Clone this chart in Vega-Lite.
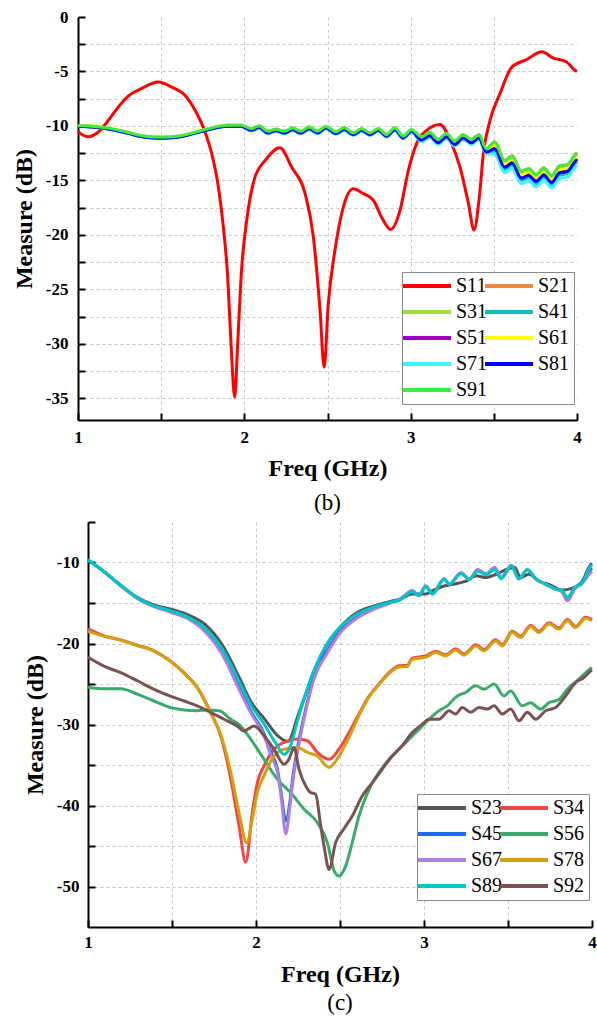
{
"$schema": "https://vega.github.io/schema/vega-lite/v6.json",
"background": "white",
"padding": {"left": 12, "top": 8, "right": 0, "bottom": 0},
"spacing": -2,
"align": "none",
"resolve": {"scale": {"x": "independent", "y": "independent", "color": "independent"}},
"config": {
  "font": "Liberation Serif",
  "view": {"stroke": null},
  "axis": {
    "domainColor": "black", "domainWidth": 2, "tickColor": "black", "tickWidth": 2, "tickSize": -7,
    "labelFont": "Liberation Serif", "labelFontWeight": "bold", "labelFontSize": 17, "labelColor": "black",
    "titleFont": "Liberation Serif", "titleFontWeight": "bold", "titleFontSize": 24, "titleColor": "black",
    "gridColor": "#c8c8c8", "gridDash": [3, 3], "gridWidth": 1, "labelFlush": false, "labelOverlap": false
  },
  "title": {"font": "Liberation Serif", "fontSize": 23, "fontWeight": "normal", "color": "black"},
  "legend": {
    "title": null, "orient": "none", "direction": "horizontal", "columns": 2, "symbolType": "M-3,0L3,0", "symbolSize": 256,
    "symbolStrokeWidth": 4, "symbolOffset": 11, "labelOffset": 19, "labelFont": "Liberation Serif",
    "labelFontSize": 20, "labelFontWeight": "normal", "labelColor": "black", "rowPadding": 6,
    "columnPadding": -15, "padding": 4, "strokeColor": "#8a8a8a", "fillColor": "white"
  }
},
"vconcat": [
{
  "width": 499, "height": 403,
  "title": {"text": "(b)", "orient": "bottom", "anchor": "middle", "offset": 12},
  "data": {"values": [
{"s":"S11","f":1,"v":-10.56},{"s":"S11","f":1.062,"v":-11},{"s":"S11","f":1.122,"v":-10.56},{"s":"S11","f":1.182,"v":-9.5},{"s":"S11","f":1.242,"v":-8.27},{"s":"S11","f":1.3,"v":-7.28},{"s":"S11","f":1.38,"v":-6.58},{"s":"S11","f":1.483,"v":-5.97},{"s":"S11","f":1.563,"v":-6.43},{"s":"S11","f":1.643,"v":-7.19},{"s":"S11","f":1.704,"v":-8.57},{"s":"S11","f":1.764,"v":-10.56},{"s":"S11","f":1.804,"v":-12.55},{"s":"S11","f":1.844,"v":-15.6},{"s":"S11","f":1.874,"v":-19.3},{"s":"S11","f":1.9,"v":-23.9},{"s":"S11","f":1.92,"v":-30},{"s":"S11","f":1.942,"v":-34.9},{"s":"S11","f":1.96,"v":-30},{"s":"S11","f":1.983,"v":-23.3},{"s":"S11","f":2.014,"v":-18.7},{"s":"S11","f":2.064,"v":-14.7},{"s":"S11","f":2.124,"v":-13.2},{"s":"S11","f":2.214,"v":-12},{"s":"S11","f":2.285,"v":-13.8},{"s":"S11","f":2.365,"v":-16.2},{"s":"S11","f":2.415,"v":-20.2},{"s":"S11","f":2.455,"v":-26.9},{"s":"S11","f":2.48,"v":-32.15},{"s":"S11","f":2.505,"v":-26.3},{"s":"S11","f":2.545,"v":-21.4},{"s":"S11","f":2.595,"v":-17.45},{"s":"S11","f":2.655,"v":-15.77},{"s":"S11","f":2.715,"v":-16.2},{"s":"S11","f":2.775,"v":-16.8},{"s":"S11","f":2.826,"v":-18.4},{"s":"S11","f":2.88,"v":-19.5},{"s":"S11","f":2.936,"v":-17.75},{"s":"S11","f":2.986,"v":-14.1},{"s":"S11","f":3.036,"v":-11.6},{"s":"S11","f":3.097,"v":-10.4},{"s":"S11","f":3.177,"v":-9.86},{"s":"S11","f":3.237,"v":-11.3},{"s":"S11","f":3.297,"v":-13.8},{"s":"S11","f":3.347,"v":-17.1},{"s":"S11","f":3.381,"v":-19.55},{"s":"S11","f":3.413,"v":-16.5},{"s":"S11","f":3.437,"v":-12.55},{"s":"S11","f":3.477,"v":-9.5},{"s":"S11","f":3.538,"v":-7},{"s":"S11","f":3.608,"v":-4.6},{"s":"S11","f":3.698,"v":-3.9},{"s":"S11","f":3.788,"v":-3.2},{"s":"S11","f":3.858,"v":-3.77},{"s":"S11","f":3.938,"v":-4.13},{"s":"S11","f":3.988,"v":-4.9},{"s":"S11","f":4,"v":-5},

{"s":"S21","f":1,"v":-9.95},{"s":"S21","f":1.1,"v":-10.05},{"s":"S21","f":1.2,"v":-10.25},{"s":"S21","f":1.3,"v":-10.6},{"s":"S21","f":1.4,"v":-10.95},{"s":"S21","f":1.5,"v":-11.05},{"s":"S21","f":1.6,"v":-10.95},{"s":"S21","f":1.7,"v":-10.6},{"s":"S21","f":1.8,"v":-10.2},{"s":"S21","f":1.9,"v":-9.95},{"s":"S21","f":1.98,"v":-9.95},{"s":"S21","f":2.04,"v":-10.25},{"s":"S21","f":2.09,"v":-10},{"s":"S21","f":2.14,"v":-10.5},{"s":"S21","f":2.19,"v":-10.3},{"s":"S21","f":2.24,"v":-10.5},{"s":"S21","f":2.29,"v":-10.2},{"s":"S21","f":2.34,"v":-10.5},{"s":"S21","f":2.39,"v":-10.1},{"s":"S21","f":2.44,"v":-10.5},{"s":"S21","f":2.49,"v":-10.05},{"s":"S21","f":2.55,"v":-10.55},{"s":"S21","f":2.6,"v":-10.17},{"s":"S21","f":2.655,"v":-10.65},{"s":"S21","f":2.705,"v":-10.25},{"s":"S21","f":2.755,"v":-10.65},{"s":"S21","f":2.805,"v":-10.25},{"s":"S21","f":2.855,"v":-10.8},{"s":"S21","f":2.905,"v":-10.2},{"s":"S21","f":2.955,"v":-10.95},{"s":"S21","f":3.005,"v":-10.35},{"s":"S21","f":3.065,"v":-11},{"s":"S21","f":3.115,"v":-10.6},{"s":"S21","f":3.165,"v":-11.25},{"s":"S21","f":3.215,"v":-10.7},{"s":"S21","f":3.265,"v":-11.4},{"s":"S21","f":3.315,"v":-10.8},{"s":"S21","f":3.365,"v":-11.25},{"s":"S21","f":3.41,"v":-10.8},{"s":"S21","f":3.455,"v":-12.1},{"s":"S21","f":3.505,"v":-11.45},{"s":"S21","f":3.565,"v":-13.15},{"s":"S21","f":3.61,"v":-12.75},{"s":"S21","f":3.665,"v":-14.15},{"s":"S21","f":3.71,"v":-13.9},{"s":"S21","f":3.755,"v":-14.45},{"s":"S21","f":3.8,"v":-13.85},{"s":"S21","f":3.848,"v":-14.55},{"s":"S21","f":3.895,"v":-13.65},{"s":"S21","f":3.94,"v":-13.55},{"s":"S21","f":3.99,"v":-12.6},{"s":"S21","f":4,"v":-12.45},

{"s":"S31","f":1,"v":-9.95},{"s":"S31","f":1.1,"v":-10.05},{"s":"S31","f":1.2,"v":-10.25},{"s":"S31","f":1.3,"v":-10.6},{"s":"S31","f":1.4,"v":-10.95},{"s":"S31","f":1.5,"v":-11.05},{"s":"S31","f":1.6,"v":-10.95},{"s":"S31","f":1.7,"v":-10.6},{"s":"S31","f":1.8,"v":-10.2},{"s":"S31","f":1.9,"v":-9.95},{"s":"S31","f":1.98,"v":-9.95},{"s":"S31","f":2.04,"v":-10.25},{"s":"S31","f":2.09,"v":-10},{"s":"S31","f":2.14,"v":-10.5},{"s":"S31","f":2.19,"v":-10.3},{"s":"S31","f":2.24,"v":-10.5},{"s":"S31","f":2.29,"v":-10.2},{"s":"S31","f":2.34,"v":-10.5},{"s":"S31","f":2.39,"v":-10.1},{"s":"S31","f":2.44,"v":-10.5},{"s":"S31","f":2.49,"v":-10.05},{"s":"S31","f":2.55,"v":-10.55},{"s":"S31","f":2.6,"v":-10.17},{"s":"S31","f":2.655,"v":-10.65},{"s":"S31","f":2.705,"v":-10.25},{"s":"S31","f":2.755,"v":-10.65},{"s":"S31","f":2.805,"v":-10.25},{"s":"S31","f":2.855,"v":-10.8},{"s":"S31","f":2.905,"v":-10.2},{"s":"S31","f":2.955,"v":-10.95},{"s":"S31","f":3.005,"v":-10.35},{"s":"S31","f":3.065,"v":-11.05},{"s":"S31","f":3.115,"v":-10.65},{"s":"S31","f":3.165,"v":-11.3},{"s":"S31","f":3.215,"v":-10.75},{"s":"S31","f":3.265,"v":-11.45},{"s":"S31","f":3.315,"v":-10.85},{"s":"S31","f":3.365,"v":-11.3},{"s":"S31","f":3.41,"v":-10.85},{"s":"S31","f":3.455,"v":-12.15},{"s":"S31","f":3.505,"v":-11.6},{"s":"S31","f":3.565,"v":-13.3},{"s":"S31","f":3.61,"v":-12.9},{"s":"S31","f":3.665,"v":-14.3},{"s":"S31","f":3.71,"v":-14.05},{"s":"S31","f":3.755,"v":-14.6},{"s":"S31","f":3.8,"v":-14},{"s":"S31","f":3.848,"v":-14.7},{"s":"S31","f":3.895,"v":-13.8},{"s":"S31","f":3.94,"v":-13.7},{"s":"S31","f":3.99,"v":-12.75},{"s":"S31","f":4,"v":-12.6},

{"s":"S41","f":1,"v":-10},{"s":"S41","f":1.1,"v":-10.1},{"s":"S41","f":1.2,"v":-10.3},{"s":"S41","f":1.3,"v":-10.65},{"s":"S41","f":1.4,"v":-11},{"s":"S41","f":1.5,"v":-11.1},{"s":"S41","f":1.6,"v":-11},{"s":"S41","f":1.7,"v":-10.65},{"s":"S41","f":1.8,"v":-10.25},{"s":"S41","f":1.9,"v":-10},{"s":"S41","f":1.98,"v":-10},{"s":"S41","f":2.04,"v":-10.37},{"s":"S41","f":2.09,"v":-10.12},{"s":"S41","f":2.14,"v":-10.62},{"s":"S41","f":2.19,"v":-10.42},{"s":"S41","f":2.24,"v":-10.62},{"s":"S41","f":2.29,"v":-10.32},{"s":"S41","f":2.34,"v":-10.62},{"s":"S41","f":2.39,"v":-10.22},{"s":"S41","f":2.44,"v":-10.62},{"s":"S41","f":2.49,"v":-10.17},{"s":"S41","f":2.55,"v":-10.67},{"s":"S41","f":2.6,"v":-10.29},{"s":"S41","f":2.655,"v":-10.77},{"s":"S41","f":2.705,"v":-10.37},{"s":"S41","f":2.755,"v":-10.77},{"s":"S41","f":2.805,"v":-10.37},{"s":"S41","f":2.855,"v":-10.92},{"s":"S41","f":2.905,"v":-10.32},{"s":"S41","f":2.955,"v":-11.07},{"s":"S41","f":3.005,"v":-10.47},{"s":"S41","f":3.065,"v":-11.3},{"s":"S41","f":3.115,"v":-10.9},{"s":"S41","f":3.165,"v":-11.55},{"s":"S41","f":3.215,"v":-11},{"s":"S41","f":3.265,"v":-11.7},{"s":"S41","f":3.315,"v":-11.1},{"s":"S41","f":3.365,"v":-11.55},{"s":"S41","f":3.41,"v":-11.1},{"s":"S41","f":3.455,"v":-12.4},{"s":"S41","f":3.505,"v":-12.3},{"s":"S41","f":3.565,"v":-14},{"s":"S41","f":3.61,"v":-13.6},{"s":"S41","f":3.665,"v":-15},{"s":"S41","f":3.71,"v":-14.75},{"s":"S41","f":3.755,"v":-15.3},{"s":"S41","f":3.8,"v":-14.7},{"s":"S41","f":3.848,"v":-15.4},{"s":"S41","f":3.895,"v":-14.5},{"s":"S41","f":3.94,"v":-14.4},{"s":"S41","f":3.99,"v":-13.45},{"s":"S41","f":4,"v":-13.3},

{"s":"S51","f":1,"v":-10},{"s":"S51","f":1.1,"v":-10.1},{"s":"S51","f":1.2,"v":-10.3},{"s":"S51","f":1.3,"v":-10.65},{"s":"S51","f":1.4,"v":-11},{"s":"S51","f":1.5,"v":-11.1},{"s":"S51","f":1.6,"v":-11},{"s":"S51","f":1.7,"v":-10.65},{"s":"S51","f":1.8,"v":-10.25},{"s":"S51","f":1.9,"v":-10},{"s":"S51","f":1.98,"v":-10},{"s":"S51","f":2.04,"v":-10.35},{"s":"S51","f":2.09,"v":-10.1},{"s":"S51","f":2.14,"v":-10.6},{"s":"S51","f":2.19,"v":-10.4},{"s":"S51","f":2.24,"v":-10.6},{"s":"S51","f":2.29,"v":-10.3},{"s":"S51","f":2.34,"v":-10.6},{"s":"S51","f":2.39,"v":-10.2},{"s":"S51","f":2.44,"v":-10.6},{"s":"S51","f":2.49,"v":-10.15},{"s":"S51","f":2.55,"v":-10.65},{"s":"S51","f":2.6,"v":-10.27},{"s":"S51","f":2.655,"v":-10.75},{"s":"S51","f":2.705,"v":-10.35},{"s":"S51","f":2.755,"v":-10.75},{"s":"S51","f":2.805,"v":-10.35},{"s":"S51","f":2.855,"v":-10.9},{"s":"S51","f":2.905,"v":-10.3},{"s":"S51","f":2.955,"v":-11.05},{"s":"S51","f":3.005,"v":-10.45},{"s":"S51","f":3.065,"v":-11.2},{"s":"S51","f":3.115,"v":-10.8},{"s":"S51","f":3.165,"v":-11.45},{"s":"S51","f":3.215,"v":-10.9},{"s":"S51","f":3.265,"v":-11.6},{"s":"S51","f":3.315,"v":-11},{"s":"S51","f":3.365,"v":-11.45},{"s":"S51","f":3.41,"v":-11},{"s":"S51","f":3.455,"v":-12.3},{"s":"S51","f":3.505,"v":-11.95},{"s":"S51","f":3.565,"v":-13.65},{"s":"S51","f":3.61,"v":-13.25},{"s":"S51","f":3.665,"v":-14.65},{"s":"S51","f":3.71,"v":-14.4},{"s":"S51","f":3.755,"v":-14.95},{"s":"S51","f":3.8,"v":-14.35},{"s":"S51","f":3.848,"v":-15.05},{"s":"S51","f":3.895,"v":-14.15},{"s":"S51","f":3.94,"v":-14.05},{"s":"S51","f":3.99,"v":-13.1},{"s":"S51","f":4,"v":-12.95},

{"s":"S61","f":1,"v":-9.95},{"s":"S61","f":1.1,"v":-10.05},{"s":"S61","f":1.2,"v":-10.25},{"s":"S61","f":1.3,"v":-10.6},{"s":"S61","f":1.4,"v":-10.95},{"s":"S61","f":1.5,"v":-11.05},{"s":"S61","f":1.6,"v":-10.95},{"s":"S61","f":1.7,"v":-10.6},{"s":"S61","f":1.8,"v":-10.2},{"s":"S61","f":1.9,"v":-9.95},{"s":"S61","f":1.98,"v":-9.95},{"s":"S61","f":2.04,"v":-10.3},{"s":"S61","f":2.09,"v":-10.05},{"s":"S61","f":2.14,"v":-10.55},{"s":"S61","f":2.19,"v":-10.35},{"s":"S61","f":2.24,"v":-10.55},{"s":"S61","f":2.29,"v":-10.25},{"s":"S61","f":2.34,"v":-10.55},{"s":"S61","f":2.39,"v":-10.15},{"s":"S61","f":2.44,"v":-10.55},{"s":"S61","f":2.49,"v":-10.1},{"s":"S61","f":2.55,"v":-10.6},{"s":"S61","f":2.6,"v":-10.22},{"s":"S61","f":2.655,"v":-10.7},{"s":"S61","f":2.705,"v":-10.3},{"s":"S61","f":2.755,"v":-10.7},{"s":"S61","f":2.805,"v":-10.3},{"s":"S61","f":2.855,"v":-10.85},{"s":"S61","f":2.905,"v":-10.25},{"s":"S61","f":2.955,"v":-11},{"s":"S61","f":3.005,"v":-10.4},{"s":"S61","f":3.065,"v":-11.1},{"s":"S61","f":3.115,"v":-10.7},{"s":"S61","f":3.165,"v":-11.35},{"s":"S61","f":3.215,"v":-10.8},{"s":"S61","f":3.265,"v":-11.5},{"s":"S61","f":3.315,"v":-10.9},{"s":"S61","f":3.365,"v":-11.35},{"s":"S61","f":3.41,"v":-10.9},{"s":"S61","f":3.455,"v":-12.2},{"s":"S61","f":3.505,"v":-11.8},{"s":"S61","f":3.565,"v":-13.5},{"s":"S61","f":3.61,"v":-13.1},{"s":"S61","f":3.665,"v":-14.5},{"s":"S61","f":3.71,"v":-14.25},{"s":"S61","f":3.755,"v":-14.8},{"s":"S61","f":3.8,"v":-14.2},{"s":"S61","f":3.848,"v":-14.9},{"s":"S61","f":3.895,"v":-14},{"s":"S61","f":3.94,"v":-13.9},{"s":"S61","f":3.99,"v":-12.95},{"s":"S61","f":4,"v":-12.8},

{"s":"S71","f":1,"v":-10.03},{"s":"S71","f":1.1,"v":-10.13},{"s":"S71","f":1.2,"v":-10.33},{"s":"S71","f":1.3,"v":-10.68},{"s":"S71","f":1.4,"v":-11.03},{"s":"S71","f":1.5,"v":-11.13},{"s":"S71","f":1.6,"v":-11.03},{"s":"S71","f":1.7,"v":-10.68},{"s":"S71","f":1.8,"v":-10.28},{"s":"S71","f":1.9,"v":-10.03},{"s":"S71","f":1.98,"v":-10.03},{"s":"S71","f":2.04,"v":-10.47},{"s":"S71","f":2.09,"v":-10.22},{"s":"S71","f":2.14,"v":-10.72},{"s":"S71","f":2.19,"v":-10.52},{"s":"S71","f":2.24,"v":-10.72},{"s":"S71","f":2.29,"v":-10.42},{"s":"S71","f":2.34,"v":-10.72},{"s":"S71","f":2.39,"v":-10.32},{"s":"S71","f":2.44,"v":-10.72},{"s":"S71","f":2.49,"v":-10.27},{"s":"S71","f":2.55,"v":-10.77},{"s":"S71","f":2.6,"v":-10.39},{"s":"S71","f":2.655,"v":-10.87},{"s":"S71","f":2.705,"v":-10.47},{"s":"S71","f":2.755,"v":-10.87},{"s":"S71","f":2.805,"v":-10.47},{"s":"S71","f":2.855,"v":-11.02},{"s":"S71","f":2.905,"v":-10.42},{"s":"S71","f":2.955,"v":-11.17},{"s":"S71","f":3.005,"v":-10.57},{"s":"S71","f":3.065,"v":-11.45},{"s":"S71","f":3.115,"v":-11.05},{"s":"S71","f":3.165,"v":-11.7},{"s":"S71","f":3.215,"v":-11.15},{"s":"S71","f":3.265,"v":-11.85},{"s":"S71","f":3.315,"v":-11.25},{"s":"S71","f":3.365,"v":-11.7},{"s":"S71","f":3.41,"v":-11.25},{"s":"S71","f":3.455,"v":-12.55},{"s":"S71","f":3.505,"v":-12.6},{"s":"S71","f":3.565,"v":-14.3},{"s":"S71","f":3.61,"v":-13.9},{"s":"S71","f":3.665,"v":-15.3},{"s":"S71","f":3.71,"v":-15.05},{"s":"S71","f":3.755,"v":-15.6},{"s":"S71","f":3.8,"v":-15},{"s":"S71","f":3.848,"v":-15.7},{"s":"S71","f":3.895,"v":-14.8},{"s":"S71","f":3.94,"v":-14.7},{"s":"S71","f":3.99,"v":-13.75},{"s":"S71","f":4,"v":-13.6},

{"s":"S81","f":1,"v":-10.03},{"s":"S81","f":1.1,"v":-10.13},{"s":"S81","f":1.2,"v":-10.33},{"s":"S81","f":1.3,"v":-10.68},{"s":"S81","f":1.4,"v":-11.03},{"s":"S81","f":1.5,"v":-11.13},{"s":"S81","f":1.6,"v":-11.03},{"s":"S81","f":1.7,"v":-10.68},{"s":"S81","f":1.8,"v":-10.28},{"s":"S81","f":1.9,"v":-10.03},{"s":"S81","f":1.98,"v":-10.03},{"s":"S81","f":2.04,"v":-10.4},{"s":"S81","f":2.09,"v":-10.15},{"s":"S81","f":2.14,"v":-10.65},{"s":"S81","f":2.19,"v":-10.45},{"s":"S81","f":2.24,"v":-10.65},{"s":"S81","f":2.29,"v":-10.35},{"s":"S81","f":2.34,"v":-10.65},{"s":"S81","f":2.39,"v":-10.25},{"s":"S81","f":2.44,"v":-10.65},{"s":"S81","f":2.49,"v":-10.2},{"s":"S81","f":2.55,"v":-10.7},{"s":"S81","f":2.6,"v":-10.32},{"s":"S81","f":2.655,"v":-10.8},{"s":"S81","f":2.705,"v":-10.4},{"s":"S81","f":2.755,"v":-10.8},{"s":"S81","f":2.805,"v":-10.4},{"s":"S81","f":2.855,"v":-10.95},{"s":"S81","f":2.905,"v":-10.35},{"s":"S81","f":2.955,"v":-11.1},{"s":"S81","f":3.005,"v":-10.5},{"s":"S81","f":3.065,"v":-11.3},{"s":"S81","f":3.115,"v":-10.9},{"s":"S81","f":3.165,"v":-11.55},{"s":"S81","f":3.215,"v":-11},{"s":"S81","f":3.265,"v":-11.7},{"s":"S81","f":3.315,"v":-11.1},{"s":"S81","f":3.365,"v":-11.55},{"s":"S81","f":3.41,"v":-11.1},{"s":"S81","f":3.455,"v":-12.4},{"s":"S81","f":3.505,"v":-12.1},{"s":"S81","f":3.565,"v":-13.8},{"s":"S81","f":3.61,"v":-13.4},{"s":"S81","f":3.665,"v":-14.8},{"s":"S81","f":3.71,"v":-14.55},{"s":"S81","f":3.755,"v":-15.1},{"s":"S81","f":3.8,"v":-14.5},{"s":"S81","f":3.848,"v":-15.2},{"s":"S81","f":3.895,"v":-14.3},{"s":"S81","f":3.94,"v":-14.2},{"s":"S81","f":3.99,"v":-13.25},{"s":"S81","f":4,"v":-13.1},

{"s":"S91","f":1,"v":-9.95},{"s":"S91","f":1.1,"v":-10.05},{"s":"S91","f":1.2,"v":-10.25},{"s":"S91","f":1.3,"v":-10.6},{"s":"S91","f":1.4,"v":-10.95},{"s":"S91","f":1.5,"v":-11.05},{"s":"S91","f":1.6,"v":-10.95},{"s":"S91","f":1.7,"v":-10.6},{"s":"S91","f":1.8,"v":-10.2},{"s":"S91","f":1.9,"v":-9.95},{"s":"S91","f":1.98,"v":-9.95},{"s":"S91","f":2.04,"v":-10.25},{"s":"S91","f":2.09,"v":-10},{"s":"S91","f":2.14,"v":-10.5},{"s":"S91","f":2.19,"v":-10.3},{"s":"S91","f":2.24,"v":-10.5},{"s":"S91","f":2.29,"v":-10.2},{"s":"S91","f":2.34,"v":-10.5},{"s":"S91","f":2.39,"v":-10.1},{"s":"S91","f":2.44,"v":-10.5},{"s":"S91","f":2.49,"v":-10.05},{"s":"S91","f":2.55,"v":-10.55},{"s":"S91","f":2.6,"v":-10.17},{"s":"S91","f":2.655,"v":-10.65},{"s":"S91","f":2.705,"v":-10.25},{"s":"S91","f":2.755,"v":-10.65},{"s":"S91","f":2.805,"v":-10.25},{"s":"S91","f":2.855,"v":-10.8},{"s":"S91","f":2.905,"v":-10.2},{"s":"S91","f":2.955,"v":-10.95},{"s":"S91","f":3.005,"v":-10.35},{"s":"S91","f":3.065,"v":-11},{"s":"S91","f":3.115,"v":-10.6},{"s":"S91","f":3.165,"v":-11.25},{"s":"S91","f":3.215,"v":-10.7},{"s":"S91","f":3.265,"v":-11.4},{"s":"S91","f":3.315,"v":-10.8},{"s":"S91","f":3.365,"v":-11.25},{"s":"S91","f":3.41,"v":-10.8},{"s":"S91","f":3.455,"v":-12.1},{"s":"S91","f":3.505,"v":-11.5},{"s":"S91","f":3.565,"v":-13.2},{"s":"S91","f":3.61,"v":-12.8},{"s":"S91","f":3.665,"v":-14.2},{"s":"S91","f":3.71,"v":-13.95},{"s":"S91","f":3.755,"v":-14.5},{"s":"S91","f":3.8,"v":-13.9},{"s":"S91","f":3.848,"v":-14.6},{"s":"S91","f":3.895,"v":-13.7},{"s":"S91","f":3.94,"v":-13.6},{"s":"S91","f":3.99,"v":-12.65},{"s":"S91","f":4,"v":-12.5}
  ]},
  "mark": {"type": "line", "strokeWidth": 3, "interpolate": "monotone"},
  "encoding": {
    "x": {"field": "f", "type": "quantitative", "scale": {"domain": [1, 4], "nice": false, "zero": false},
      "axis": {"title": "Freq (GHz)", "values": [1, 1.5, 2, 2.5, 3, 3.5, 4], "labelExpr": "datum.value % 1 === 0 ? '' + datum.value : ''",
        "labelPadding": 16, "titlePadding": 11,
        "gridOpacity": {"condition": {"test": "datum.value === 1 || datum.value === 4", "value": 0}, "value": 1}}},
    "y": {"field": "v", "type": "quantitative", "scale": {"domain": [-37, 0], "nice": false, "zero": false},
      "axis": {"title": "Measure (dB)", "values": [0, -2.5, -5, -7.5, -10, -12.5, -15, -17.5, -20, -22.5, -25, -27.5, -30, -32.5, -35],
        "labelExpr": "datum.value % 5 === 0 ? '' + datum.value : ''", "labelPadding": 17, "titlePadding": 9,
        "gridOpacity": {"condition": {"test": "datum.value === 0", "value": 0}, "value": 1}}},
    "color": {"field": "s", "type": "nominal",
      "scale": {"domain": ["S11","S21","S31","S41","S51","S61","S71","S81","S91"],
        "range": ["#ff0000","#f08a3a","#9edc3a","#14bebe","#9a00c8","#ffff00","#3cf4ff","#0000ff","#3cee3c"]},
      "legend": {"legendX": 324, "legendY": 255}}
  }
},
{
  "align": "none",
  "spacing": -56,
  "hconcat": [
    {"width": 1, "height": 10, "data": {"values": []}, "mark": "point", "encoding": {}},
    {
  "width": 504, "height": 405,
  "title": {"text": "(c)", "orient": "bottom", "anchor": "middle", "offset": 5},
  "data": {"values": [
{"s":"S23","f":1,"v":-9.7},{"s":"S23","f":1.1,"v":-11.2},{"s":"S23","f":1.2,"v":-12.9},{"s":"S23","f":1.3,"v":-14.4},{"s":"S23","f":1.4,"v":-15.3},{"s":"S23","f":1.5,"v":-15.8},{"s":"S23","f":1.6,"v":-16.5},{"s":"S23","f":1.7,"v":-17.7},{"s":"S23","f":1.8,"v":-20.2},{"s":"S23","f":1.9,"v":-24.2},{"s":"S23","f":1.97,"v":-27.2},{"s":"S23","f":2.05,"v":-29.3},{"s":"S23","f":2.13,"v":-31.4},{"s":"S23","f":2.19,"v":-32.1},{"s":"S23","f":2.25,"v":-28.9},{"s":"S23","f":2.35,"v":-23.2},{"s":"S23","f":2.43,"v":-19.9},{"s":"S23","f":2.5,"v":-18},{"s":"S23","f":2.6,"v":-16.2},{"s":"S23","f":2.7,"v":-15.4},{"s":"S23","f":2.8,"v":-14.8},{"s":"S23","f":2.86,"v":-14.5},{"s":"S23","f":2.93,"v":-13.9},{"s":"S23","f":3.01,"v":-13.9},{"s":"S23","f":3.05,"v":-13.5},{"s":"S23","f":3.12,"v":-12.9},{"s":"S23","f":3.17,"v":-12.7},{"s":"S23","f":3.25,"v":-12.3},{"s":"S23","f":3.31,"v":-11.65},{"s":"S23","f":3.37,"v":-11.85},{"s":"S23","f":3.43,"v":-11.45},{"s":"S23","f":3.49,"v":-10.85},{"s":"S23","f":3.54,"v":-10.6},{"s":"S23","f":3.575,"v":-11.85},{"s":"S23","f":3.625,"v":-11.45},{"s":"S23","f":3.684,"v":-12.3},{"s":"S23","f":3.744,"v":-12.7},{"s":"S23","f":3.82,"v":-13.4},{"s":"S23","f":3.88,"v":-13.2},{"s":"S23","f":3.94,"v":-12.4},{"s":"S23","f":3.99,"v":-10.3},{"s":"S23","f":4,"v":-10.1},

{"s":"S34","f":1,"v":-18.2},{"s":"S34","f":1.095,"v":-19.05},{"s":"S34","f":1.195,"v":-19.55},{"s":"S34","f":1.293,"v":-20.2},{"s":"S34","f":1.393,"v":-20.9},{"s":"S34","f":1.49,"v":-22.15},{"s":"S34","f":1.571,"v":-23.6},{"s":"S34","f":1.65,"v":-25.4},{"s":"S34","f":1.73,"v":-28.5},{"s":"S34","f":1.79,"v":-31.4},{"s":"S34","f":1.85,"v":-36.75},{"s":"S34","f":1.899,"v":-42.5},{"s":"S34","f":1.939,"v":-47},{"s":"S34","f":1.978,"v":-40.9},{"s":"S34","f":2.008,"v":-37.2},{"s":"S34","f":2.048,"v":-35.1},{"s":"S34","f":2.107,"v":-33.05},{"s":"S34","f":2.167,"v":-32.2},{"s":"S34","f":2.246,"v":-31.8},{"s":"S34","f":2.306,"v":-32},{"s":"S34","f":2.365,"v":-33.45},{"s":"S34","f":2.435,"v":-34.3},{"s":"S34","f":2.494,"v":-33.05},{"s":"S34","f":2.554,"v":-31},{"s":"S34","f":2.613,"v":-28.7},{"s":"S34","f":2.673,"v":-26.5},{"s":"S34","f":2.732,"v":-25},{"s":"S34","f":2.792,"v":-23.6},{"s":"S34","f":2.851,"v":-22.75},{"s":"S34","f":2.9,"v":-22.7},{"s":"S34","f":2.93,"v":-21.8},{"s":"S34","f":3.01,"v":-21.55},{"s":"S34","f":3.07,"v":-20.95},{"s":"S34","f":3.129,"v":-21.4},{"s":"S34","f":3.188,"v":-20.65},{"s":"S34","f":3.238,"v":-21.3},{"s":"S34","f":3.308,"v":-20.15},{"s":"S34","f":3.357,"v":-20.75},{"s":"S34","f":3.427,"v":-19.55},{"s":"S34","f":3.466,"v":-20.15},{"s":"S34","f":3.526,"v":-18.5},{"s":"S34","f":3.575,"v":-19.1},{"s":"S34","f":3.635,"v":-17.75},{"s":"S34","f":3.684,"v":-18.5},{"s":"S34","f":3.744,"v":-17.45},{"s":"S34","f":3.803,"v":-18.1},{"s":"S34","f":3.853,"v":-17.05},{"s":"S34","f":3.903,"v":-17.9},{"s":"S34","f":3.962,"v":-16.75},{"s":"S34","f":3.992,"v":-16.95},{"s":"S34","f":4,"v":-17.05},

{"s":"S45","f":1,"v":-9.7},{"s":"S45","f":1.1,"v":-11.2},{"s":"S45","f":1.2,"v":-12.95},{"s":"S45","f":1.3,"v":-14.5},{"s":"S45","f":1.4,"v":-15.45},{"s":"S45","f":1.5,"v":-16.1},{"s":"S45","f":1.6,"v":-16.9},{"s":"S45","f":1.7,"v":-18.5},{"s":"S45","f":1.8,"v":-21.2},{"s":"S45","f":1.9,"v":-25.4},{"s":"S45","f":1.97,"v":-28.4},{"s":"S45","f":2.05,"v":-31.2},{"s":"S45","f":2.09,"v":-33.5},{"s":"S45","f":2.127,"v":-35.5},{"s":"S45","f":2.15,"v":-38.5},{"s":"S45","f":2.177,"v":-41.9},{"s":"S45","f":2.2,"v":-39.8},{"s":"S45","f":2.216,"v":-37},{"s":"S45","f":2.246,"v":-33},{"s":"S45","f":2.286,"v":-29},{"s":"S45","f":2.345,"v":-24.1},{"s":"S45","f":2.43,"v":-20.7},{"s":"S45","f":2.5,"v":-18.5},{"s":"S45","f":2.6,"v":-16.8},{"s":"S45","f":2.7,"v":-15.7},{"s":"S45","f":2.8,"v":-14.95},{"s":"S45","f":2.86,"v":-14.5},{"s":"S45","f":2.93,"v":-13.5},{"s":"S45","f":2.97,"v":-14.05},{"s":"S45","f":3.01,"v":-12.9},{"s":"S45","f":3.05,"v":-13.85},{"s":"S45","f":3.12,"v":-12},{"s":"S45","f":3.15,"v":-12.7},{"s":"S45","f":3.22,"v":-11.3},{"s":"S45","f":3.27,"v":-12.05},{"s":"S45","f":3.32,"v":-10.9},{"s":"S45","f":3.37,"v":-11.45},{"s":"S45","f":3.42,"v":-10.65},{"s":"S45","f":3.46,"v":-11.85},{"s":"S45","f":3.52,"v":-10.4},{"s":"S45","f":3.565,"v":-12},{"s":"S45","f":3.615,"v":-10.9},{"s":"S45","f":3.665,"v":-12},{"s":"S45","f":3.725,"v":-12.7},{"s":"S45","f":3.785,"v":-13.3},{"s":"S45","f":3.82,"v":-13.55},{"s":"S45","f":3.853,"v":-14.6},{"s":"S45","f":3.9,"v":-13.1},{"s":"S45","f":3.94,"v":-12.5},{"s":"S45","f":3.99,"v":-10.9},{"s":"S45","f":4,"v":-10.7},

{"s":"S56","f":1,"v":-25.4},{"s":"S56","f":1.095,"v":-25.6},{"s":"S56","f":1.195,"v":-25.6},{"s":"S56","f":1.293,"v":-26.25},{"s":"S56","f":1.393,"v":-27.1},{"s":"S56","f":1.49,"v":-27.9},{"s":"S56","f":1.571,"v":-28.2},{"s":"S56","f":1.65,"v":-28.3},{"s":"S56","f":1.71,"v":-28.2},{"s":"S56","f":1.78,"v":-28.3},{"s":"S56","f":1.85,"v":-29.35},{"s":"S56","f":1.909,"v":-30.2},{"s":"S56","f":1.968,"v":-31.8},{"s":"S56","f":2.048,"v":-34.3},{"s":"S56","f":2.127,"v":-36.75},{"s":"S56","f":2.206,"v":-38.4},{"s":"S56","f":2.286,"v":-40.45},{"s":"S56","f":2.365,"v":-42.1},{"s":"S56","f":2.425,"v":-44.6},{"s":"S56","f":2.464,"v":-48},{"s":"S56","f":2.494,"v":-48.7},{"s":"S56","f":2.534,"v":-47.45},{"s":"S56","f":2.573,"v":-44.57},{"s":"S56","f":2.613,"v":-41.3},{"s":"S56","f":2.673,"v":-38},{"s":"S56","f":2.732,"v":-35.9},{"s":"S56","f":2.792,"v":-34.3},{"s":"S56","f":2.851,"v":-33.05},{"s":"S56","f":2.911,"v":-31.8},{"s":"S56","f":2.97,"v":-30.6},{"s":"S56","f":3.03,"v":-29.35},{"s":"S56","f":3.089,"v":-28.3},{"s":"S56","f":3.139,"v":-27.7},{"s":"S56","f":3.198,"v":-26.47},{"s":"S56","f":3.248,"v":-26.05},{"s":"S56","f":3.308,"v":-25.23},{"s":"S56","f":3.357,"v":-25.64},{"s":"S56","f":3.417,"v":-25},{"s":"S56","f":3.476,"v":-26.47},{"s":"S56","f":3.516,"v":-25.85},{"s":"S56","f":3.585,"v":-27.7},{"s":"S56","f":3.635,"v":-27.3},{"s":"S56","f":3.694,"v":-28.1},{"s":"S56","f":3.744,"v":-27.3},{"s":"S56","f":3.803,"v":-26.9},{"s":"S56","f":3.863,"v":-25.44},{"s":"S56","f":3.922,"v":-24.4},{"s":"S56","f":3.992,"v":-23.1},{"s":"S56","f":4,"v":-23},

{"s":"S67","f":1,"v":-9.7},{"s":"S67","f":1.1,"v":-11.2},{"s":"S67","f":1.2,"v":-12.95},{"s":"S67","f":1.3,"v":-14.5},{"s":"S67","f":1.4,"v":-15.5},{"s":"S67","f":1.5,"v":-16.2},{"s":"S67","f":1.6,"v":-17},{"s":"S67","f":1.7,"v":-18.6},{"s":"S67","f":1.8,"v":-21.4},{"s":"S67","f":1.9,"v":-25.7},{"s":"S67","f":1.97,"v":-28.6},{"s":"S67","f":2.05,"v":-31.5},{"s":"S67","f":2.09,"v":-33.9},{"s":"S67","f":2.127,"v":-35.9},{"s":"S67","f":2.15,"v":-39},{"s":"S67","f":2.177,"v":-43.5},{"s":"S67","f":2.2,"v":-40.5},{"s":"S67","f":2.216,"v":-37.6},{"s":"S67","f":2.246,"v":-33.5},{"s":"S67","f":2.286,"v":-29.3},{"s":"S67","f":2.345,"v":-24.4},{"s":"S67","f":2.43,"v":-21},{"s":"S67","f":2.5,"v":-18.7},{"s":"S67","f":2.6,"v":-16.9},{"s":"S67","f":2.7,"v":-15.8},{"s":"S67","f":2.8,"v":-15},{"s":"S67","f":2.86,"v":-14.5},{"s":"S67","f":2.93,"v":-13.5},{"s":"S67","f":2.97,"v":-14.1},{"s":"S67","f":3.01,"v":-12.9},{"s":"S67","f":3.05,"v":-13.9},{"s":"S67","f":3.12,"v":-12},{"s":"S67","f":3.15,"v":-12.7},{"s":"S67","f":3.22,"v":-11.25},{"s":"S67","f":3.27,"v":-12.05},{"s":"S67","f":3.32,"v":-10.85},{"s":"S67","f":3.37,"v":-11.45},{"s":"S67","f":3.42,"v":-10.6},{"s":"S67","f":3.46,"v":-11.8},{"s":"S67","f":3.52,"v":-10.35},{"s":"S67","f":3.565,"v":-12.05},{"s":"S67","f":3.615,"v":-10.85},{"s":"S67","f":3.665,"v":-12.05},{"s":"S67","f":3.725,"v":-12.7},{"s":"S67","f":3.785,"v":-13.3},{"s":"S67","f":3.82,"v":-13.6},{"s":"S67","f":3.853,"v":-14.75},{"s":"S67","f":3.9,"v":-13.2},{"s":"S67","f":3.94,"v":-12.6},{"s":"S67","f":3.99,"v":-11.3},{"s":"S67","f":4,"v":-11.1},

{"s":"S78","f":1,"v":-18.5},{"s":"S78","f":1.095,"v":-19.1},{"s":"S78","f":1.195,"v":-19.6},{"s":"S78","f":1.293,"v":-20.25},{"s":"S78","f":1.393,"v":-20.95},{"s":"S78","f":1.49,"v":-22.2},{"s":"S78","f":1.571,"v":-23.65},{"s":"S78","f":1.65,"v":-25.45},{"s":"S78","f":1.73,"v":-28.6},{"s":"S78","f":1.79,"v":-31.2},{"s":"S78","f":1.85,"v":-35.9},{"s":"S78","f":1.899,"v":-40.9},{"s":"S78","f":1.945,"v":-44.6},{"s":"S78","f":1.978,"v":-41.7},{"s":"S78","f":2.008,"v":-38.4},{"s":"S78","f":2.048,"v":-36.3},{"s":"S78","f":2.107,"v":-33.9},{"s":"S78","f":2.167,"v":-33.05},{"s":"S78","f":2.246,"v":-32.85},{"s":"S78","f":2.306,"v":-33.45},{"s":"S78","f":2.365,"v":-33.9},{"s":"S78","f":2.435,"v":-35.3},{"s":"S78","f":2.494,"v":-33.9},{"s":"S78","f":2.554,"v":-31.6},{"s":"S78","f":2.613,"v":-28.9},{"s":"S78","f":2.673,"v":-26.6},{"s":"S78","f":2.732,"v":-25.1},{"s":"S78","f":2.792,"v":-23.7},{"s":"S78","f":2.851,"v":-22.9},{"s":"S78","f":2.9,"v":-22.85},{"s":"S78","f":2.93,"v":-21.94},{"s":"S78","f":3.01,"v":-21.7},{"s":"S78","f":3.07,"v":-21.1},{"s":"S78","f":3.129,"v":-21.53},{"s":"S78","f":3.188,"v":-20.8},{"s":"S78","f":3.238,"v":-21.44},{"s":"S78","f":3.308,"v":-20.3},{"s":"S78","f":3.357,"v":-20.9},{"s":"S78","f":3.427,"v":-19.7},{"s":"S78","f":3.466,"v":-20.3},{"s":"S78","f":3.526,"v":-18.65},{"s":"S78","f":3.575,"v":-19.26},{"s":"S78","f":3.635,"v":-17.9},{"s":"S78","f":3.684,"v":-18.65},{"s":"S78","f":3.744,"v":-17.6},{"s":"S78","f":3.803,"v":-18.23},{"s":"S78","f":3.853,"v":-17.2},{"s":"S78","f":3.903,"v":-18.03},{"s":"S78","f":3.962,"v":-16.9},{"s":"S78","f":3.992,"v":-17.1},{"s":"S78","f":4,"v":-17.2},

{"s":"S89","f":1,"v":-9.7},{"s":"S89","f":1.1,"v":-11.2},{"s":"S89","f":1.2,"v":-12.9},{"s":"S89","f":1.3,"v":-14.45},{"s":"S89","f":1.4,"v":-15.4},{"s":"S89","f":1.5,"v":-16},{"s":"S89","f":1.6,"v":-16.8},{"s":"S89","f":1.7,"v":-18.2},{"s":"S89","f":1.8,"v":-20.7},{"s":"S89","f":1.9,"v":-24.7},{"s":"S89","f":1.97,"v":-27.6},{"s":"S89","f":2.05,"v":-30},{"s":"S89","f":2.12,"v":-32.4},{"s":"S89","f":2.167,"v":-33.7},{"s":"S89","f":2.206,"v":-32.6},{"s":"S89","f":2.25,"v":-29.3},{"s":"S89","f":2.35,"v":-23.1},{"s":"S89","f":2.43,"v":-19.8},{"s":"S89","f":2.5,"v":-18},{"s":"S89","f":2.6,"v":-16.4},{"s":"S89","f":2.7,"v":-15.5},{"s":"S89","f":2.8,"v":-14.9},{"s":"S89","f":2.86,"v":-14.6},{"s":"S89","f":2.93,"v":-13.6},{"s":"S89","f":2.97,"v":-14.1},{"s":"S89","f":3.01,"v":-13},{"s":"S89","f":3.05,"v":-13.9},{"s":"S89","f":3.12,"v":-12.1},{"s":"S89","f":3.15,"v":-12.7},{"s":"S89","f":3.22,"v":-11.4},{"s":"S89","f":3.27,"v":-12.1},{"s":"S89","f":3.32,"v":-11.1},{"s":"S89","f":3.37,"v":-11.5},{"s":"S89","f":3.42,"v":-10.9},{"s":"S89","f":3.46,"v":-12},{"s":"S89","f":3.52,"v":-10.4},{"s":"S89","f":3.565,"v":-12},{"s":"S89","f":3.615,"v":-10.9},{"s":"S89","f":3.665,"v":-12},{"s":"S89","f":3.725,"v":-12.7},{"s":"S89","f":3.785,"v":-13.3},{"s":"S89","f":3.82,"v":-13.4},{"s":"S89","f":3.853,"v":-14.3},{"s":"S89","f":3.9,"v":-13},{"s":"S89","f":3.94,"v":-12.6},{"s":"S89","f":3.99,"v":-10.5},{"s":"S89","f":4,"v":-10.3},

{"s":"S92","f":1,"v":-21.7},{"s":"S92","f":1.095,"v":-22.8},{"s":"S92","f":1.195,"v":-23.6},{"s":"S92","f":1.293,"v":-24.6},{"s":"S92","f":1.393,"v":-25.65},{"s":"S92","f":1.49,"v":-26.5},{"s":"S92","f":1.571,"v":-27.1},{"s":"S92","f":1.65,"v":-27.7},{"s":"S92","f":1.73,"v":-28.5},{"s":"S92","f":1.81,"v":-29.35},{"s":"S92","f":1.889,"v":-30.2},{"s":"S92","f":1.929,"v":-30.8},{"s":"S92","f":1.988,"v":-30.2},{"s":"S92","f":2.048,"v":-31.4},{"s":"S92","f":2.107,"v":-33.05},{"s":"S92","f":2.167,"v":-34.9},{"s":"S92","f":2.196,"v":-34.3},{"s":"S92","f":2.226,"v":-32.85},{"s":"S92","f":2.256,"v":-35.5},{"s":"S92","f":2.296,"v":-37.6},{"s":"S92","f":2.325,"v":-38.4},{"s":"S92","f":2.355,"v":-38.6},{"s":"S92","f":2.385,"v":-42.5},{"s":"S92","f":2.405,"v":-45},{"s":"S92","f":2.435,"v":-47.9},{"s":"S92","f":2.474,"v":-44.57},{"s":"S92","f":2.523,"v":-42.9},{"s":"S92","f":2.573,"v":-41.3},{"s":"S92","f":2.633,"v":-38.8},{"s":"S92","f":2.692,"v":-37.2},{"s":"S92","f":2.752,"v":-35.5},{"s":"S92","f":2.811,"v":-33.9},{"s":"S92","f":2.871,"v":-32.6},{"s":"S92","f":2.93,"v":-31},{"s":"S92","f":2.99,"v":-29.96},{"s":"S92","f":3.03,"v":-29.35},{"s":"S92","f":3.089,"v":-29.35},{"s":"S92","f":3.149,"v":-28.3},{"s":"S92","f":3.188,"v":-28.7},{"s":"S92","f":3.228,"v":-27.9},{"s":"S92","f":3.278,"v":-28.5},{"s":"S92","f":3.327,"v":-27.9},{"s":"S92","f":3.377,"v":-28.1},{"s":"S92","f":3.417,"v":-27.7},{"s":"S92","f":3.466,"v":-28.7},{"s":"S92","f":3.516,"v":-28.1},{"s":"S92","f":3.565,"v":-29.55},{"s":"S92","f":3.615,"v":-28.5},{"s":"S92","f":3.665,"v":-29.35},{"s":"S92","f":3.724,"v":-28.3},{"s":"S92","f":3.784,"v":-27.9},{"s":"S92","f":3.843,"v":-26.47},{"s":"S92","f":3.903,"v":-24.8},{"s":"S92","f":3.952,"v":-24.2},{"s":"S92","f":3.992,"v":-23.4},{"s":"S92","f":4,"v":-23.3}
  ]},
  "mark": {"type": "line", "strokeWidth": 3, "interpolate": "monotone"},
  "encoding": {
    "x": {"field": "f", "type": "quantitative", "scale": {"domain": [1, 4], "nice": false, "zero": false},
      "axis": {"title": "Freq (GHz)", "values": [1, 1.5, 2, 2.5, 3, 3.5, 4], "labelExpr": "datum.value % 1 === 0 ? '' + datum.value : ''",
        "labelPadding": 14.5, "titlePadding": 12,
        "gridOpacity": {"condition": {"test": "datum.value === 1 || datum.value === 4", "value": 0}, "value": 1}}},
    "y": {"field": "v", "type": "quantitative", "scale": {"domain": [-55, -5], "nice": false, "zero": false},
      "axis": {"title": "Measure (dB)", "values": [-5, -10, -15, -20, -25, -30, -35, -40, -45, -50],
        "labelExpr": "datum.value % 10 === 0 ? '' + datum.value : ''", "labelPadding": 16, "titlePadding": 9,
        "gridOpacity": {"condition": {"test": "datum.value === -5", "value": 0}, "value": 1}}},
    "color": {"field": "s", "type": "nominal",
      "scale": {"domain": ["S23","S34","S45","S56","S67","S78","S89","S92"],
        "range": ["#555555","#f24646","#1f6fe0","#3caa6a","#b07ee0","#d4a010","#00c6c6","#7b5252"]},
      "legend": {"legendX": 339, "legendY": 272}}
  }
    }
  ]
}
]
}
